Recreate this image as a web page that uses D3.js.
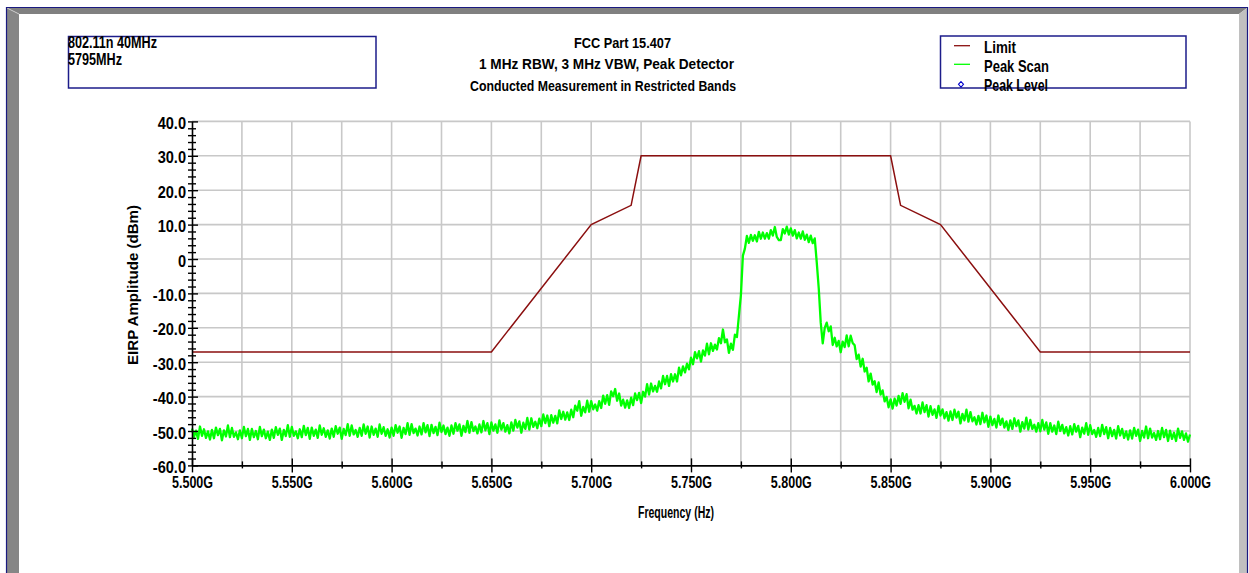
<!DOCTYPE html>
<html>
<head>
<meta charset="utf-8">
<script src="https://cdn.jsdelivr.net/npm/d3@7"></script>
<style>
html,body{margin:0;padding:0;background:#fff;}
svg{display:block;}
text{font-family:"Liberation Sans",Arial,sans-serif;font-weight:bold;fill:#000;}
</style>
</head>
<body>
<svg id="chart" width="1249" height="573"></svg>
<script>
// 数据
var infoLines = ["802.11n 40MHz", "5795MHz"];
var titleLines = ["FCC Part 15.407", "1 MHz RBW, 3 MHz VBW, Peak Detector", "Conducted Measurement in Restricted Bands"];
var legendNames = ["Limit", "Peak Scan", "Peak Level"];
var yTitle = "EIRP Amplitude (dBm)";
var xTitle = "Frequency (Hz)";

var yTickValues = [40, 30, 20, 10, 0, -10, -20, -30, -40, -50, -60];
var yTickLabels = ["40.0", "30.0", "20.0", "10.0", "0", "-10.0", "-20.0", "-30.0", "-40.0", "-50.0", "-60.0"];
var xTickValues = [5.50, 5.55, 5.60, 5.65, 5.70, 5.75, 5.80, 5.85, 5.90, 5.95, 6.00];
var xTickLabels = ["5.500G", "5.550G", "5.600G", "5.650G", "5.700G", "5.750G", "5.800G", "5.850G", "5.900G", "5.950G", "6.000G"];

// 限值线 (GHz, dBm)
var limitFreq  = [5.500, 5.650, 5.700, 5.720, 5.725, 5.850, 5.855, 5.875, 5.925, 6.000];
var limitLevel = [-27,   -27,   10,    15.6,  30,    30,    15.6,  10,    -27,   -27];

// 峰值扫描, 5.500G 起每 1MHz 一点
var scanStart = 5.500, scanStep = 0.001;
var scanLevel = [
-49.3,-51.7,-49.9,-52.3,-48.7,-51.4,-49.5,-52.0,-50.1,-52.5,
-49.7,-52.1,-49.0,-51.2,-49.4,-52.7,-49.8,-51.6,-48.4,-51.8,
-49.1,-51.7,-50.4,-52.4,-49.8,-52.1,-48.8,-51.5,-49.4,-52.6,
-49.4,-51.8,-50.0,-52.4,-48.8,-51.5,-49.6,-52.1,-50.2,-52.6,
-49.6,-52.0,-48.9,-51.1,-49.3,-52.6,-49.7,-51.5,-48.3,-51.7,
-48.8,-51.4,-50.1,-52.1,-49.5,-51.8,-48.5,-51.2,-49.1,-52.3,
-49.0,-51.4,-49.6,-52.0,-48.4,-51.1,-49.2,-51.7,-49.8,-52.2,
-49.3,-51.7,-48.6,-50.8,-49.0,-52.3,-49.4,-51.2,-48.0,-51.4,
-48.4,-51.0,-49.7,-51.7,-49.1,-51.4,-48.1,-50.8,-48.7,-51.9,
-48.7,-51.1,-49.3,-51.7,-48.1,-50.8,-48.9,-51.4,-49.5,-51.9,
-49.0,-51.4,-48.3,-50.5,-48.7,-52.0,-49.1,-50.9,-47.7,-51.1,
-48.0,-50.6,-49.3,-51.3,-48.7,-51.0,-47.7,-50.4,-48.3,-51.5,
-48.2,-50.6,-48.8,-51.2,-47.6,-50.3,-48.4,-50.9,-49.0,-51.4,
-48.4,-50.8,-47.7,-49.9,-48.1,-51.4,-48.5,-50.3,-47.1,-50.5,
-47.4,-50.0,-48.7,-50.7,-48.1,-50.4,-47.1,-49.8,-47.7,-50.9,
-47.5,-49.9,-48.1,-50.5,-46.9,-49.6,-47.7,-50.2,-48.3,-50.7,
-47.5,-49.9,-46.8,-49.0,-47.2,-50.5,-47.6,-49.4,-46.2,-49.6,
-46.3,-48.8,-47.3,-49.2,-46.4,-48.6,-45.2,-47.7,-45.5,-48.6,
-45.4,-47.6,-45.6,-47.8,-44.0,-46.5,-44.4,-46.7,-44.6,-46.8,
-43.8,-46.0,-42.6,-44.1,-41.3,-45.6,-43.0,-44.6,-41.2,-44.4,
-41.3,-43.7,-42.3,-44.1,-41.3,-43.3,-39.7,-42.1,-39.6,-42.4,
-38.5,-39.9,-37.8,-41.2,-39.1,-42.6,-40.9,-43.2,-41.1,-43.3,
-40.3,-42.5,-39.1,-41.0,-38.9,-41.9,-38.6,-40.0,-36.4,-39.4,
-36.2,-38.5,-36.9,-38.6,-35.6,-37.6,-34.0,-36.4,-34.0,-36.9,
-33.5,-35.6,-33.5,-35.6,-31.6,-33.8,-31.2,-33.0,-30.4,-32.1,
-28.7,-30.6,-27.1,-28.9,-26.8,-29.8,-26.6,-28.1,-24.6,-27.7,
-24.5,-26.7,-24.9,-26.3,-23.0,-24.5,-20.5,-24.2,-23.4,-27.3,
-24.6,-26.4,-22.0,-22.7,-16.5,-10.5,1.0,3.0,6.7,4.7,
7.0,5.3,6.9,5.1,7.9,5.9,7.7,5.9,7.5,5.9,
8.4,6.8,9.3,6.4,5.5,5.5,8.7,7.4,9.4,7.1,
8.9,6.8,8.4,6.0,7.7,5.9,8.0,5.6,7.1,4.9,
6.8,4.6,6.0,-1.0,-8.5,-18.5,-24.5,-20.0,-18.5,-21.0,
-19.6,-25.0,-22.9,-25.4,-23.8,-27.1,-24.0,-25.6,-22.2,-25.4,
-22.3,-24.4,-25.1,-29.1,-27.8,-31.3,-29.0,-32.7,-31.6,-35.6,
-33.3,-36.5,-35.5,-38.7,-35.9,-39.4,-38.2,-41.4,-40.1,-43.1,
-40.8,-43.5,-40.6,-42.6,-39.8,-42.1,-39.0,-41.5,-39.3,-43.4,
-40.9,-43.8,-42.7,-44.9,-42.5,-44.9,-41.7,-44.5,-42.5,-45.8,
-42.8,-45.3,-43.7,-46.2,-42.7,-45.5,-43.7,-46.3,-44.5,-47.0,
-44.3,-46.8,-43.8,-46.1,-44.4,-47.8,-45.0,-46.9,-43.8,-47.3,
-44.5,-47.2,-46.0,-48.1,-45.6,-48.0,-44.7,-47.5,-45.5,-48.8,
-45.8,-48.3,-46.5,-49.0,-45.5,-48.2,-46.4,-49.0,-47.2,-49.7,
-46.9,-49.4,-46.3,-48.6,-46.9,-50.2,-47.4,-49.3,-46.1,-49.6,
-46.8,-49.4,-48.2,-50.2,-47.7,-50.1,-46.8,-49.6,-47.5,-50.8,
-47.7,-50.2,-48.4,-50.9,-47.3,-50.0,-48.2,-50.7,-48.9,-51.3,
-48.6,-51.0,-48.0,-50.2,-48.5,-51.8,-49.0,-50.8,-47.7,-51.1,
-48.3,-50.9,-49.7,-51.7,-49.1,-51.5,-48.2,-50.9,-48.9,-52.1,
-49.1,-51.5,-49.7,-52.2,-48.6,-51.3,-49.4,-52.0,-50.1,-52.5,
-49.8,-52.2,-49.1,-51.4,-49.6,-52.9,-50.0,-51.9,-48.7,-52.1,
-49.3,-51.9,-50.6,-52.6,-50.0,-52.4,-49.1,-51.8,-49.7,-52.9,
-49.9,-52.3,-50.5,-52.9,-49.3,-52.0,-50.1,-52.6,-50.7,-53.1,
-51.0
];

var svg = d3.select("#chart");
var x = d3.scaleLinear().domain([5.5, 6.0]).range([192, 1190]);
var y = d3.scaleLinear().domain([-60, 40]).range([465.4, 121.4]);

// 压窄文字
function fit(sel, w) {
	sel.attr("textLength", w).attr("lengthAdjust", "spacingAndGlyphs");
}

// 外框
var frame = svg.append("g").attr("class", "frame");
frame.append("polygon").attr("points", "7,8 1247,8 1239,14 19,14").attr("fill", "#808080");
frame.append("polygon").attr("points", "7,8 19,14 19,573 7,573").attr("fill", "#868686");
frame.append("polygon").attr("points", "1247,8 1247,573 1239,573 1239,14").attr("fill", "#c0c0c0");
frame.append("line").attr("x1", 7).attr("y1", 8).attr("x2", 19).attr("y2", 14).attr("stroke", "#c8c8c8");
frame.append("path")
	.attr("d", "M6.5,573 V7.5 H1247.5 V573")
	.attr("fill", "none").attr("stroke", "#1a1a80").attr("stroke-width", 1.2);

// 左上信息框
svg.append("rect")
	.attr("x", 68.5).attr("y", 36.5).attr("width", 307.5).attr("height", 51.5)
	.attr("fill", "none").attr("stroke", "#1c1c8a").attr("stroke-width", 1.5);
svg.append("g").selectAll("text")
	.data(infoLines)
	.enter()
	.append("text")
	.attr("x", 68)
	.attr("y", function(d, i) { return 48.3 + i * 16.7; })
	.attr("font-size", 16)
	.text(function(d) { return d; })
	.each(function(d, i) { fit(d3.select(this), [89, 54][i]); });

// 标题
var titlePos = [{x: 574, y: 48, w: 97}, {x: 479, y: 69, w: 255}, {x: 470, y: 91, w: 266}];
svg.append("g").selectAll("text")
	.data(titleLines)
	.enter()
	.append("text")
	.attr("x", function(d, i) { return titlePos[i].x; })
	.attr("y", function(d, i) { return titlePos[i].y; })
	.attr("font-size", 15)
	.text(function(d) { return d; })
	.each(function(d, i) { fit(d3.select(this), titlePos[i].w); });

// 图例
var legend = svg.append("g").attr("class", "legend");
legend.append("rect")
	.attr("x", 940.5).attr("y", 36).attr("width", 245.5).attr("height", 52)
	.attr("fill", "none").attr("stroke", "#1c1c8a").attr("stroke-width", 1.5);
legend.append("line").attr("x1", 954).attr("x2", 970).attr("y1", 45.7).attr("y2", 45.7)
	.attr("stroke", "#8b0f0f").attr("stroke-width", 1.3);
legend.append("line").attr("x1", 954).attr("x2", 970).attr("y1", 64.3).attr("y2", 64.3)
	.attr("stroke", "#00ff00").attr("stroke-width", 1.3);
legend.append("path").attr("d", "M961,81.5 L963.5,84.3 L961,87.1 L958.5,84.3 Z")
	.attr("fill", "#fff").attr("stroke", "#0000cc").attr("stroke-width", 1.1);
legend.selectAll("text")
	.data(legendNames)
	.enter()
	.append("text")
	.attr("x", 984)
	.attr("y", function(d, i) { return 53 + i * 19; })
	.attr("font-size", 16.5)
	.text(function(d) { return d; })
	.each(function(d, i) { fit(d3.select(this), [32, 65, 64][i]); });

// 网格
var plot = svg.append("g").attr("class", "plot");
var gridX = d3.range(1, 21).map(function(i) { return 5.5 + i * 0.025; });
var gridY = d3.range(-50, 41, 10);
plot.selectAll("line.gx")
	.data(gridX)
	.enter()
	.append("line")
	.attr("class", "gx")
	.attr("x1", function(d) { return x(d); }).attr("x2", function(d) { return x(d); })
	.attr("y1", y(40)).attr("y2", y(-60))
	.attr("stroke", "#c8c8c8").attr("stroke-width", 1.6);
plot.selectAll("line.gy")
	.data(gridY)
	.enter()
	.append("line")
	.attr("class", "gy")
	.attr("x1", x(5.5)).attr("x2", x(6.0))
	.attr("y1", function(d) { return y(d); }).attr("y2", function(d) { return y(d); })
	.attr("stroke", "#c8c8c8").attr("stroke-width", 1.6);

// 限值线
var limitData = limitFreq.map(function(f, i) { return [f, limitLevel[i]]; });
plot.append("path")
	.datum(limitData)
	.attr("fill", "none")
	.attr("stroke", "#8b0f0f")
	.attr("stroke-width", 1.5)
	.attr("d", d3.line().x(function(d) { return x(d[0]); }).y(function(d) { return y(d[1]); }));

// 峰值扫描
plot.append("path")
	.datum(scanLevel)
	.attr("fill", "none")
	.attr("stroke", "#00ff00")
	.attr("stroke-width", 2.3)
	.attr("stroke-linejoin", "round")
	.attr("d", d3.line()
		.x(function(d, i) { return x(scanStart + i * scanStep); })
		.y(function(d) { return y(d); }));

// Y 轴
var gy = svg.append("g").attr("transform", "translate(192,0)");
gy.call(d3.axisLeft(y).tickValues(d3.range(-60, 41, 2)).tickFormat("").tickSizeOuter(0));
gy.select(".domain").attr("stroke", "#000").attr("stroke-width", 1.6);
gy.selectAll(".tick line")
	.attr("x1", -4)
	.attr("x2", function(d) { return d % 10 === 0 ? 6 : 4; })
	.attr("stroke", "#000").attr("stroke-width", 1.4);

var gyl = svg.append("g").attr("transform", "translate(192,0)");
gyl.call(d3.axisLeft(y).tickValues(yTickValues)
	.tickFormat(function(d, i) { return yTickLabels[i]; })
	.tickSize(0).tickPadding(5));
gyl.select(".domain").remove();
gyl.selectAll(".tick text")
	.attr("font-size", 16)
	.attr("x", -6)
	.attr("dy", 0)
	.attr("y", 7)
	.each(function() {
		var t = d3.select(this);
		fit(t, this.getComputedTextLength() * 0.91);
	});

// X 轴
var gx = svg.append("g").attr("transform", "translate(0," + y(-60) + ")");
gx.call(d3.axisBottom(x).tickValues(d3.range(0, 21).map(function(i) { return 5.5 + i * 0.025; }))
	.tickFormat("").tickSizeOuter(0));
gx.select(".domain").attr("stroke", "#000").attr("stroke-width", 1.6);
gx.selectAll(".tick line")
	.attr("y1", function(d, i) { return i % 2 === 0 ? -7 : -4; })
	.attr("y2", function(d, i) { return i % 2 === 0 ? 7 : 3; })
	.attr("stroke", "#000").attr("stroke-width", 1.4);

var gxl = svg.append("g").attr("transform", "translate(0," + y(-60) + ")");
gxl.call(d3.axisBottom(x).tickValues(xTickValues)
	.tickFormat(function(d, i) { return xTickLabels[i]; })
	.tickSize(0));
gxl.select(".domain").remove();
gxl.selectAll(".tick text")
	.attr("font-size", 16)
	.attr("y", 23)
	.attr("dy", 0)
	.each(function() { fit(d3.select(this), 41); });

// 轴标题
var yt = svg.append("text")
	.attr("transform", "translate(138,285) rotate(-90)")
	.attr("text-anchor", "middle")
	.attr("font-size", 15)
	.text(yTitle);
fit(yt, 160);

var xt = svg.append("text")
	.attr("x", 638)
	.attr("y", 518)
	.attr("font-size", 16)
	.text(xTitle);
fit(xt, 76);
</script>
</body>
</html>
